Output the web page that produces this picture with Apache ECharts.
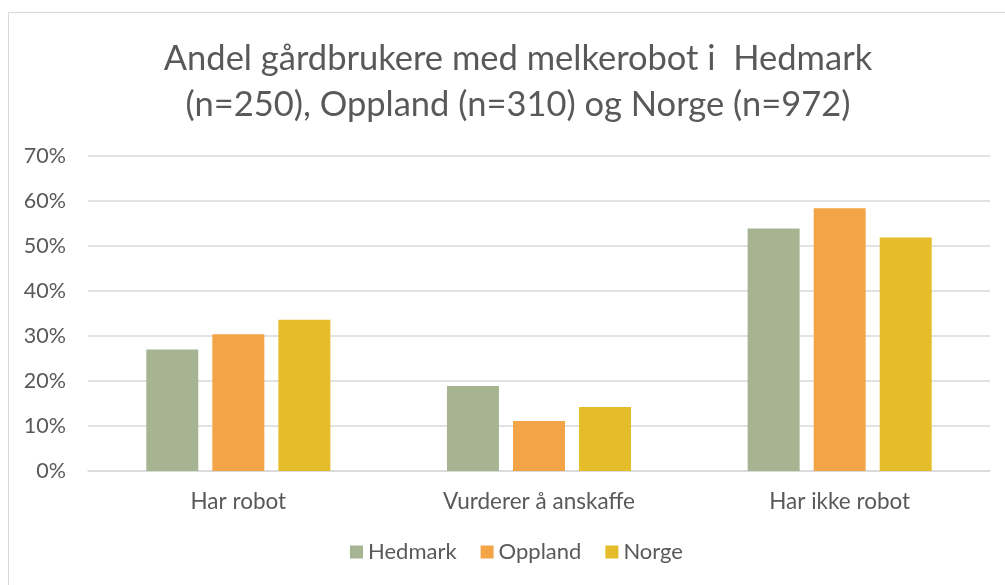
<!DOCTYPE html>
<html>
<head>
<meta charset="utf-8">
<script src="https://cdn.jsdelivr.net/npm/echarts@6/dist/echarts.min.js"></script>
<style>
  html, body { margin: 0; padding: 0; background: #fff; overflow: hidden; }
  #frame { position: absolute; left: 8px; top: 12px; width: 1100px; height: 700px; border: 1px solid #d9d9d9; }
  #chart { position: absolute; left: 0; top: 0; width: 1005px; height: 585px; }
</style>
</head>
<body>
<div id="frame"></div>
<div id="chart"></div>
<script>
// kategorier og verdier (andel i %)
var categories = ['Har robot', 'Vurderer å anskaffe', 'Har ikke robot'];
var hedmark = [27.0, 18.9, 53.9];
var oppland = [30.4, 11.1, 58.4];
var norge = [33.6, 14.2, 51.9];
var seriesNames = ['Hedmark', 'Oppland', 'Norge'];
var colors = ['#a6b492', '#f3a447', '#e5bc29'];

var myChart = echarts.init(document.getElementById('chart'));
var font = 'Lato, "Open Sans", sans-serif';

function bar(name, data, color) {
    return {
        name: name,
        type: 'bar',
        data: data,
        barWidth: 52,
        barGap: '27%',
        itemStyle: { color: color }
    };
}

option = {
    color: colors,
    textStyle: { fontFamily: font },
    title: {
        text: 'Andel gårdbrukere med melkerobot i  Hedmark\n(n=250), Oppland (n=310) og Norge (n=972)',
        left: 513,
        textAlign: 'center',
        top: 31,
        textStyle: {
            color: '#595959',
            fontWeight: 'normal',
            fontSize: 34.5,
            lineHeight: 46,
            fontFamily: font
        }
    },
    legend: {
        bottom: 17,
        left: 345,
        itemWidth: 13,
        itemHeight: 13,
        itemGap: 24,
        icon: 'rect',
        textStyle: { color: '#595959', fontSize: 22, fontFamily: font },
        data: seriesNames
    },
    grid: { left: 88, right: 15, top: 156, bottom: 114, containLabel: false },
    xAxis: {
        type: 'category',
        data: categories,
        axisLine: { lineStyle: { color: '#d9d9d9', width: 1.5 } },
        axisTick: { show: false },
        axisLabel: { color: '#595959', fontSize: 22.5, margin: 19, fontFamily: font }
    },
    yAxis: {
        type: 'value',
        min: 0,
        max: 70,
        interval: 10,
        axisLine: { show: false },
        axisTick: { show: false },
        axisLabel: { formatter: '{value}%', color: '#595959', fontSize: 21.5, margin: 22, fontFamily: font },
        splitLine: { lineStyle: { color: '#d9d9d9', width: 1.5 } }
    },
    series: [
        bar(seriesNames[0], hedmark, colors[0]),
        bar(seriesNames[1], oppland, colors[1]),
        bar(seriesNames[2], norge, colors[2])
    ]
};

myChart.setOption(option);
</script>
</body>
</html>
